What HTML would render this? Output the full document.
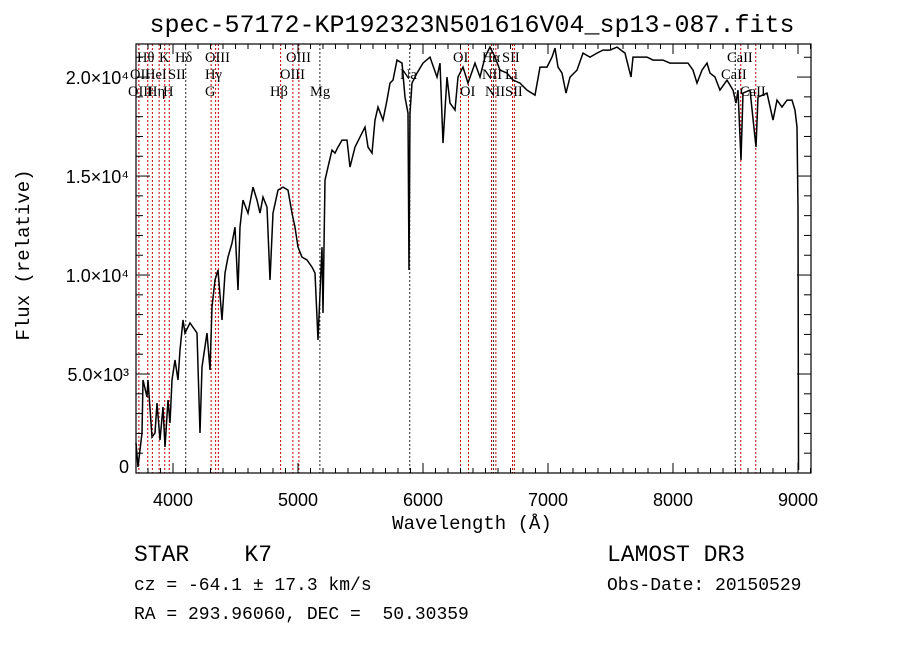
<!DOCTYPE html>
<html><head><meta charset="utf-8"><style>
html,body{margin:0;padding:0;background:#fff;}
svg{display:block;}
text{white-space:pre;}
.t{font-family:"Liberation Mono",monospace;fill:#000;}
.s{font-family:"Liberation Serif",serif;fill:#000;font-size:14.5px;}
.k{font-family:"Liberation Sans",sans-serif;fill:#000;}
</style></head><body>
<svg id="chart" width="900" height="649" viewBox="0 0 900 649" xmlns="http://www.w3.org/2000/svg" xml:space="preserve">
<rect x="0" y="0" width="900" height="649" fill="#fff"/>
<text class="t" x="472" y="32" font-size="25" text-anchor="middle">spec-57172-KP192323N501616V04_sp13-087.fits</text>
<g id="lines"></g>
<g id="labels">
<text class="s" x="137" y="62">Hθ</text>
<text class="s" x="159" y="62">K</text>
<text class="s" x="175" y="62">Hδ</text>
<text class="s" x="205" y="62">OIII</text>
<text class="s" x="286" y="62">OIII</text>
<text class="s" x="453" y="62">OI</text>
<text class="s" x="482" y="62">Hα</text>
<text class="s" x="502" y="62">SII</text>
<text class="s" x="727" y="62">CaII</text>
<text class="s" x="130" y="79">OII</text>
<text class="s" x="145" y="79">HeI</text>
<text class="s" x="168" y="79">SII</text>
<text class="s" x="205" y="79">Hγ</text>
<text class="s" x="280" y="79">OIII</text>
<text class="s" x="400" y="79">Na</text>
<text class="s" x="482" y="79">NII</text>
<text class="s" x="505" y="79">Li</text>
<text class="s" x="721" y="79">CaII</text>
<text class="s" x="128" y="96">OIII</text>
<text class="s" x="147" y="96">Hη</text>
<text class="s" x="163" y="96">H</text>
<text class="s" x="205" y="96">G</text>
<text class="s" x="270" y="96">Hβ</text>
<text class="s" x="310" y="96">Mg</text>
<text class="s" x="460" y="96">OI</text>
<text class="s" x="485" y="96">NII</text>
<text class="s" x="505" y="96">SII</text>
<text class="s" x="740" y="96">CaII</text>
</g>
<g id="ticks"></g>
<path id="spec" fill="none" stroke="#000" stroke-width="1.5"/>
<rect x="136" y="44" width="675" height="429" fill="none" stroke="#000" stroke-width="1.2"/>
<text class="t" x="472" y="529" font-size="19" text-anchor="middle">Wavelength (Å)</text>
<text class="t" x="0" y="0" font-size="19" text-anchor="middle" transform="translate(29,255) rotate(-90)">Flux (relative)</text>
<text class="t" x="134" y="561" font-size="23">STAR    K7</text>
<text class="t" x="134" y="590" font-size="18">cz = -64.1 ± 17.3 km/s</text>
<text class="t" x="134" y="619" font-size="18">RA = 293.96060, DEC =  50.30359</text>
<text class="t" x="607" y="561" font-size="23">LAMOST DR3</text>
<text class="t" x="607" y="590" font-size="18">Obs-Date: 20150529</text>
</svg>
<script>
const wavelengths=[3704,3720,3752,3760,3792,3800,3832,3856,3872,3896,3920,3936,3960,3976,3992,4016,4040,4056,4080,4096,4136,4192,4216,4232,4272,4296,4312,4336,4360,4392,4416,4440,4472,4496,4520,4536,4560,4600,4640,4672,4696,4720,4752,4776,4800,4840,4880,4920,4952,4976,5000,5032,5072,5112,5136,5160,5192,5200,5216,5240,5272,5296,5320,5352,5392,5416,5456,5496,5536,5560,5592,5616,5640,5680,5712,5736,5760,5792,5832,5856,5880,5888,5896,5912,5952,6000,6056,6112,6136,6160,6192,6216,6256,6280,6320,6360,6416,6456,6496,6536,6576,6616,6672,6720,6776,6832,6896,6936,6992,7032,7056,7080,7112,7144,7176,7232,7280,7336,7392,7440,7496,7552,7616,7664,7680,7736,7792,7840,7920,7976,8056,8120,8160,8192,8232,8272,8296,8336,8376,8432,8480,8504,8520,8544,8560,8616,8664,8680,8752,8800,8832,8872,8912,8952,8976,8992,9000,9004];
const fluxes=[1515,303,2020,4697,3838,4697,1818,2020,3535,1667,3333,1313,3687,2525,4697,5707,4697,6212,7727,7070,7575,7070,2020,5353,7070,5202,8383,9747,10252,7727,10100,10908,11615,12423,9241,12423,13787,13130,14443,13787,13130,13938,13433,9747,13130,14292,14443,14292,13130,12423,11413,10908,10757,10403,10100,6717,11413,8080,14797,15453,16312,16160,16463,16817,16817,15453,16463,16968,17473,16463,16160,17827,18483,17827,18837,19695,19847,20857,20705,18988,18180,10252,18180,19695,20200,20705,21008,19998,20705,16665,19998,18685,18332,19998,20503,19695,20705,19998,21008,21513,21008,20352,20200,19847,19695,19342,19090,20503,20503,21008,21463,20503,20200,19190,19998,20352,21210,21008,21210,21362,21362,21513,21210,19998,21008,21008,21008,20857,20857,20705,20705,20705,20352,19695,20352,20705,20200,19998,19342,19847,19342,18685,19342,15807,19190,19342,16463,18988,19190,17827,18837,18483,18837,18837,18332,17473,13383,151];
const lineWl=[3727,3798,3835,3889,3934,3970,4102,4305,4341,4363,4861,4959,5007,5175,5894,6300,6364,6548,6563,6583,6716,6731,8498,8542,8662];
const lineBlack=[0,0,0,0,0,0,1,0,0,0,0,0,0,1,1,0,0,0,1,0,0,0,1,0,0];
const xTicks=[4000,5000,6000,7000,8000,9000];
const yTicks=[0,5000,10000,15000,20000];
const yTickLabels=["0","5.0×10³","1.0×10⁴","1.5×10⁴","2.0×10⁴"];

const L=136,R=811,T=44,B=473,WMIN=3704,WMAX=9104,FMAX=21670;
function xs(w){return L+(w-WMIN)/(WMAX-WMIN)*(R-L);}
function ys(f){return B-f/FMAX*(B-T);}
const NS="http://www.w3.org/2000/svg";
function mk(tag,attrs,parent){const e=document.createElementNS(NS,tag);for(const k in attrs)e.setAttribute(k,attrs[k]);parent.appendChild(e);return e;}

let d="";
for(let i=0;i<wavelengths.length;i++){d+=(i?"L":"M")+xs(wavelengths[i]).toFixed(1)+" "+ys(fluxes[i]).toFixed(1);}
document.getElementById("spec").setAttribute("d",d);

const lg=document.getElementById("lines");
for(let i=0;i<lineWl.length;i++){
  const x=xs(lineWl[i]);
  const l=mk("line",{x1:x,x2:x,y1:T,y2:B,stroke:lineBlack[i]?"#222":"#c00000","stroke-width":1,"stroke-dasharray":"2,2"},lg);
  
  
}

const tg=document.getElementById("ticks");
for(let w=3800;w<=9100;w+=100){
  const x=xs(w);const major=(w%1000===0);const len=major?10:5;
  mk("line",{x1:x,x2:x,y1:B,y2:B-len,stroke:"#000","stroke-width":1},tg);
  mk("line",{x1:x,x2:x,y1:T,y2:T+len,stroke:"#000","stroke-width":1},tg);
}
for(let f=1000;f<=21000;f+=1000){
  const y=ys(f);const major=(f%5000===0);const len=major?14:7;
  mk("line",{x1:L,x2:L+len,y1:y,y2:y,stroke:"#000","stroke-width":1},tg);
  mk("line",{x1:R,x2:R-len,y1:y,y2:y,stroke:"#000","stroke-width":1},tg);
}
for(let i=0;i<xTicks.length;i++){
  const t=mk("text",{x:xs(xTicks[i]),y:506,"font-size":18,"text-anchor":"middle",class:"k"},tg);
  t.textContent=xTicks[i];
  
  
}
for(let i=0;i<yTicks.length;i++){
  const t=mk("text",{x:129,y:ys(yTicks[i])+(i===0?0:7),"font-size":18,"text-anchor":"end",class:"k"},tg);
  t.textContent=yTickLabels[i];
  
  
}
</script>
</body></html>
